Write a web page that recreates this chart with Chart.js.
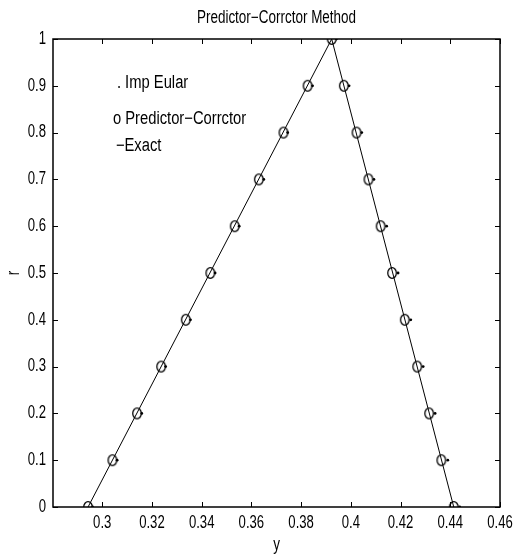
<!DOCTYPE html>
<html>
<head>
<meta charset="utf-8">
<script src="https://cdn.jsdelivr.net/npm/chart.js@4/dist/chart.umd.min.js"></script>
<style>
  html, body { margin: 0; padding: 0; background: #fff; }
  canvas { display: block; }
</style>
</head>
<body>
<canvas id="pcChart" width="528" height="555"></canvas>
<script>
// r values, left branch going up then right branch coming down
const rValues = [0, 0.1, 0.2, 0.3, 0.4, 0.5, 0.6, 0.7, 0.8, 0.9, 1,
                 0.9, 0.8, 0.7, 0.6, 0.5, 0.4, 0.3, 0.2, 0.1, 0];
// predictor-corrector (circles)
const pcY = [0.2943, 0.3041, 0.3140, 0.3237, 0.3336, 0.3435, 0.3533, 0.3630, 0.3729, 0.3826, 0.3923,
             0.3972, 0.4023, 0.4071, 0.4120, 0.4166, 0.4217, 0.4267, 0.4315, 0.4364, 0.4414];
// implicit euler (dots)
const eulerY = [0.2961, 0.3060, 0.3159, 0.3255, 0.3355, 0.3454, 0.3551, 0.3650, 0.3746, 0.3846, 0.3942,
                0.3993, 0.4044, 0.4093, 0.4144, 0.4190, 0.4241, 0.4291, 0.4339, 0.4390, 0.4438];
// exact solution (line)
const exactY = [0.2943, 0.3923, 0.4414];
const exactR = [0, 1, 0];

const xTicks = [0.3, 0.32, 0.34, 0.36, 0.38, 0.4, 0.42, 0.44, 0.46];
const yTicks = [0, 0.1, 0.2, 0.3, 0.4, 0.5, 0.6, 0.7, 0.8, 0.9, 1];

const titleText = "Predictor\u2212Corrctor Method";
const legendLines = [". Imp Eular", "o Predictor\u2212Corrctor", "\u2212Exact"];

const FONT = '"Liberation Sans", Arial, sans-serif';

function pts(xs, ys) {
    return xs.map((x, i) => ({ x: x, y: ys[i] }));
}

// open ellipse marker like matlab 'o'
function makeRing() {
    const c = document.createElement("canvas");
    c.width = 12;
    c.height = 14;
    const g = c.getContext("2d");
    g.strokeStyle = "#000";
    g.lineWidth = 1.3;
    g.beginPath();
    g.ellipse(6, 7, 4.3, 5.3, 0, 0, Math.PI * 2);
    g.stroke();
    return c;
}

// helvetica-narrow look: squeeze the text sideways
function narrowText(ctx, text, x, y, size, squeeze, align) {
    ctx.save();
    ctx.translate(x, y);
    ctx.scale(squeeze, 1);
    ctx.font = size + "px " + FONT;
    ctx.textAlign = align;
    ctx.textBaseline = "middle";
    ctx.fillText(text, 0, 0);
    ctx.restore();
}

// box, inward ticks and the texts
const matlabAxes = {
    id: "matlabAxes",
    afterDatasetsDraw(chart) {
        const ctx = chart.ctx;
        const a = chart.chartArea;
        const xs = chart.scales.x, ys = chart.scales.y;
        ctx.save();
        ctx.strokeStyle = "#000";
        ctx.lineWidth = 1.5;
        ctx.strokeRect(a.left, a.top, a.right - a.left, a.bottom - a.top);
        ctx.lineWidth = 1;
        ctx.beginPath();
        xs.ticks.forEach(t => {
            const px = Math.round(xs.getPixelForValue(t.value)) + 0.5;
            ctx.moveTo(px, a.bottom); ctx.lineTo(px, a.bottom - 5);
            ctx.moveTo(px, a.top); ctx.lineTo(px, a.top + 5);
        });
        ys.ticks.forEach(t => {
            const py = Math.round(ys.getPixelForValue(t.value)) + 0.5;
            ctx.moveTo(a.left, py); ctx.lineTo(a.left + 5, py);
            ctx.moveTo(a.right, py); ctx.lineTo(a.right - 5, py);
        });
        ctx.stroke();

        ctx.fillStyle = "#000";
        // tick labels
        xs.ticks.forEach(t => {
            narrowText(ctx, String(+t.value.toFixed(2)), xs.getPixelForValue(t.value), a.bottom + 16, 17.5, 0.75, "center");
        });
        ys.ticks.forEach(t => {
            narrowText(ctx, String(+t.value.toFixed(1)), a.left - 7, ys.getPixelForValue(t.value), 17.5, 0.75, "right");
        });

        narrowText(ctx, titleText, (a.left + a.right) / 2, 18, 17.5, 0.77, "center");
        narrowText(ctx, "y", (a.left + a.right) / 2, 545, 17.5, 0.77, "center");
        ctx.save();
        ctx.translate(14, (a.top + a.bottom) / 2);
        ctx.rotate(-Math.PI / 2);
        narrowText(ctx, "r", 0, 0, 17.5, 0.77, "center");
        ctx.restore();

        // legend text placed in data units like matlab text()
        const lx = [0.3059, 0.3043, 0.3055];
        const ly = [0.906, 0.828, 0.772];
        legendLines.forEach((t, i) => {
            narrowText(ctx, t, xs.getPixelForValue(lx[i]), ys.getPixelForValue(ly[i]), 18, 0.82, "left");
        });
        ctx.restore();
    }
};

const ring = makeRing();

new Chart(document.getElementById("pcChart"), {
    type: "scatter",
    data: {
        datasets: [
            {
                label: "Exact",
                data: pts(exactY, exactR),
                showLine: true,
                borderColor: "#000",
                borderWidth: 1,
                pointRadius: 0,
                fill: false
            },
            {
                label: "Predictor-Corrctor",
                data: pts(pcY, rValues),
                pointStyle: ring,
                pointRadius: 5
            },
            {
                label: "Imp Eular",
                data: pts(eulerY, rValues),
                pointStyle: "circle",
                pointRadius: 1.4,
                pointBorderWidth: 0,
                pointBackgroundColor: "#000"
            }
        ]
    },
    options: {
        responsive: false,
        animation: false,
        layout: { padding: { top: 39, right: 28, left: 0, bottom: 0 } },
        plugins: {
            legend: { display: false },
            tooltip: { enabled: false }
        },
        scales: {
            x: {
                type: "linear",
                min: 0.2802,
                max: 0.46,
                afterFit: s => { s.height = 48; },
                afterBuildTicks: s => { s.ticks = xTicks.map(v => ({ value: v })); },
                grid: { display: false, drawTicks: false },
                border: { display: false },
                ticks: { display: false }
            },
            y: {
                type: "linear",
                min: 0,
                max: 1,
                afterFit: s => { s.width = 53; },
                afterBuildTicks: s => { s.ticks = yTicks.map(v => ({ value: v })); },
                grid: { display: false, drawTicks: false },
                border: { display: false },
                ticks: { display: false }
            }
        }
    },
    plugins: [matlabAxes]
});
</script>
</body>
</html>
